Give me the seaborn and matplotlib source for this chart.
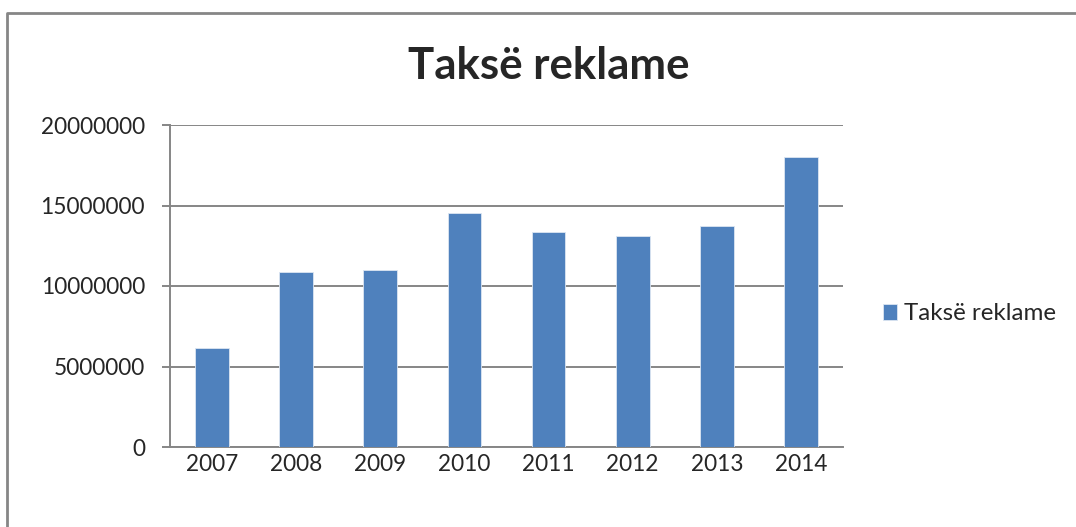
import matplotlib
matplotlib.use("Agg")
import matplotlib.pyplot as plt
import seaborn as sns
import pandas as pd
from matplotlib.lines import Line2D

sns.set_style("white")
plt.rcParams['font.family'] = ['Lato', 'DejaVu Sans']

# data
years = ["2007", "2008", "2009", "2010", "2011", "2012", "2013", "2014"]
values = [6180000, 10860000, 11010000, 14540000, 13340000, 13090000, 13710000, 18000000]
series_name = "Taksë reklame"

df = pd.DataFrame({"Viti": years, "Vlera": values})

bar_color = "#4F81BD"
grid_color = "#868686"

fig = plt.figure(figsize=(10.76, 5.27), dpi=100)
ax = fig.add_axes([170 / 1076, 1 - 447 / 527, (843 - 170) / 1076, (447 - 125) / 527])

sns.barplot(data=df, x="Viti", y="Vlera", color=bar_color, width=0.4, saturation=1,
            label=series_name, ax=ax, zorder=3, edgecolor="#DCE6F2", linewidth=0.6)

ax.set_xlim(-0.5, len(years) - 0.5)
ax.set_ylim(0, 20000000)
ax.set_yticks(range(0, 20000001, 5000000))
ax.set_yticklabels([str(v) for v in range(0, 20000001, 5000000)])
ax.yaxis.grid(True, color=grid_color, linewidth=1.4, zorder=0)
ax.set_axisbelow(True)

# ticks between categories, like the office chart
ax.set_xticks([i - 0.5 for i in range(len(years) + 1)], minor=True)
ax.tick_params(axis="x", which="major", length=0, pad=5, labelsize=16.3)
ax.tick_params(axis="x", which="minor", length=6, width=1.4, color=grid_color, direction="out")
ax.tick_params(axis="y", which="major", length=6, width=1.4, color=grid_color, direction="out",
               left=True, pad=12, labelsize=16.3)

for side in ["top", "right"]:
    ax.spines[side].set_visible(False)
for side in ["left", "bottom"]:
    ax.spines[side].set_color(grid_color)
    ax.spines[side].set_linewidth(1.4)

ax.set_xlabel("")
ax.set_ylabel("")

fig.text(549 / 1076, 1 - 66 / 527, series_name, ha="center", va="center",
         fontsize=31.5, fontweight="bold")

ax.legend(loc="center left", bbox_to_anchor=(873 / 1076, 1 - 314 / 527),
          bbox_transform=fig.transFigure, frameon=False, fontsize=17.4,
          handlelength=0.6, handleheight=0.6, handletextpad=0.3, borderaxespad=0)

# outer chart border (cropped: only left and top edges visible)
fig.lines.append(Line2D([7 / 1076, 7 / 1076, 1.0], [0.0, 1 - 13 / 527, 1 - 13 / 527],
                        transform=fig.transFigure, color=grid_color, linewidth=2))

fig.savefig("out.png", dpi=100)
